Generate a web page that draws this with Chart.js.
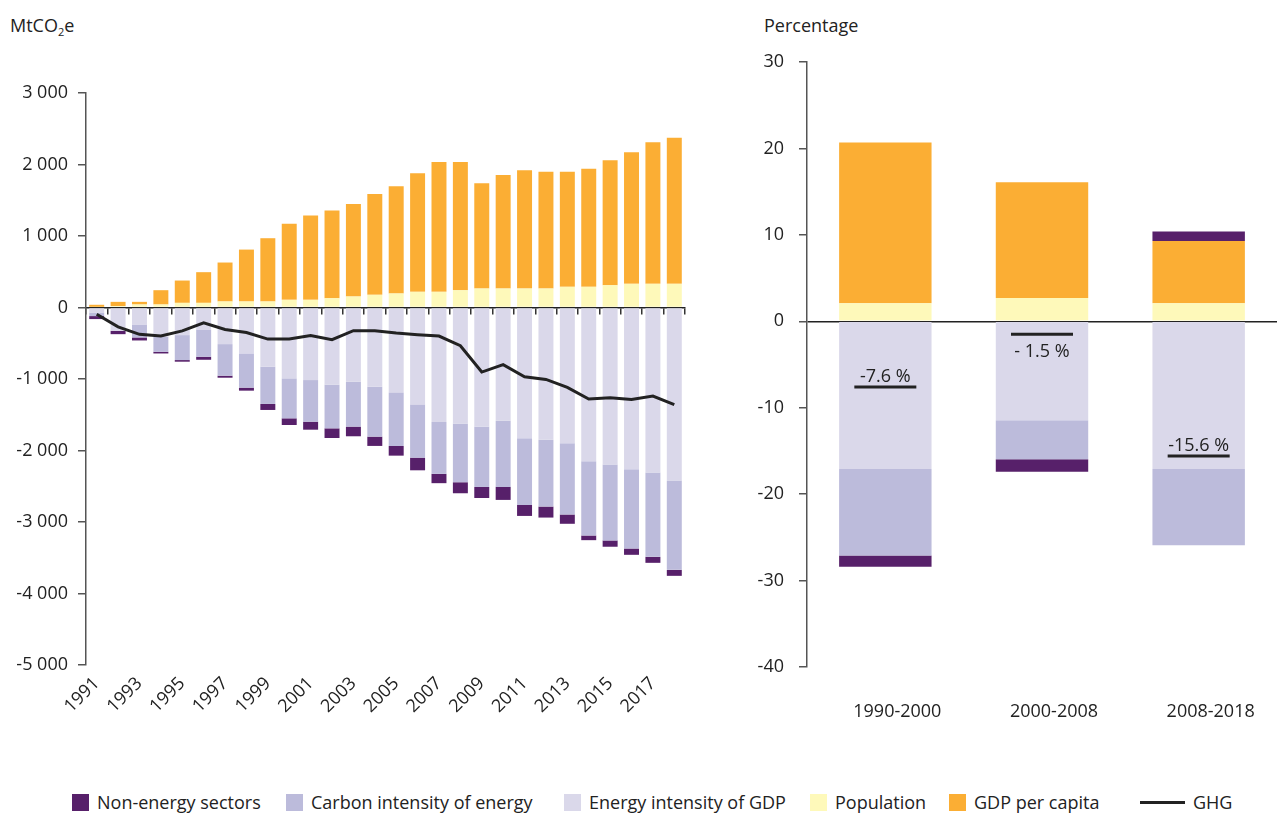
<!DOCTYPE html>
<html>
<head>
<meta charset="utf-8">
<script src="https://cdn.jsdelivr.net/npm/chart.js@4.4.1/dist/chart.umd.min.js"></script>
<style>
  html, body { margin: 0; padding: 0; background: #fff; }
  body { width: 1280px; height: 813px; position: relative; overflow: hidden; font-family: 'Open Sans', sans-serif; color: #222; }
  canvas { position: absolute; top: 0; }
  #c1 { left: 0; }
  #c2 { left: 700px; }
  .unit { position: absolute; top: 13px; font-size: 18px; line-height: 24px; }
  .unit sub { font-size: 11px; vertical-align: -4px; line-height: 0; }
  .legend { position: absolute; top: 790px; height: 24px; font-size: 18px; line-height: 24px; white-space: nowrap; display: flex; align-items: center; color: #222; }
  .legend .box { width: 17px; height: 17px; margin-right: 8px; display: inline-block; }
  .legend .ln { width: 45px; height: 3px; background: #222; margin-right: 8px; display: inline-block; }
</style>
</head>
<body>
<div class="unit" style="left:10px;">MtCO<sub>2</sub>e</div>
<div class="unit" style="left:764px;">Percentage</div>
<canvas id="c1" width="700" height="780"></canvas>
<canvas id="c2" width="580" height="780"></canvas>
<div id="legend"></div>
<script>
// ---------- Left chart data (MtCO2e) ----------
const years = ['1991','1992','1993','1994','1995','1996','1997','1998','1999','2000','2001','2002','2003','2004','2005','2006','2007','2008','2009','2010','2011','2012','2013','2014','2015','2016','2017','2018'];
const energyIntensity = [-70,-326,-237,-410,-386,-307,-512,-642,-828,-991,-1015,-1080,-1038,-1108,-1187,-1355,-1601,-1625,-1667,-1583,-1830,-1848,-1899,-2151,-2197,-2263,-2309,-2421];
const carbonIntensity = [-50,0,-182,-210,-349,-382,-442,-479,-521,-559,-582,-610,-628,-698,-750,-745,-726,-819,-843,-926,-931,-936,-996,-1038,-1061,-1108,-1178,-1248];
const nonEnergy = [-42,-47,-42,-23,-23,-42,-28,-42,-84,-93,-112,-135,-135,-130,-135,-177,-130,-154,-154,-182,-154,-154,-130,-65,-88,-88,-84,-84];
const population = [8,20,42,42,65,65,84,84,84,107,107,130,154,177,196,219,219,242,265,265,265,265,289,289,312,331,331,331];
const gdpPerCapita = [30,59,37,200,312,429,545,726,885,1066,1178,1225,1294,1411,1499,1658,1816,1793,1472,1588,1654,1635,1611,1653,1746,1839,1979,2044];
const ghg = [-95,-270,-375,-397,-327,-215,-308,-350,-442,-442,-391,-451,-325,-325,-358,-381,-400,-535,-903,-800,-968,-1006,-1117,-1280,-1261,-1285,-1239,-1359];
const leftTicks = [-5000,-4000,-3000,-2000,-1000,0,1000,2000,3000];

// ---------- Right chart data (percentage) ----------
const periods = ['1990-2000','2000-2008','2008-2018'];
const rEnergyIntensity = [-17.1,-11.45,-17.1];
const rCarbonIntensity = [-10.0,-4.5,-8.8];
const rPopulation = [2.1,2.7,2.1];
const rGdpPerCapita = [18.6,13.4,7.2];
const rNonEnergy = [-1.3,-1.45,1.1];
const rGhg = [-7.6,-1.5,-15.6];
const rGhgLabels = ['-7.6 %','- 1.5 %','-15.6 %'];

const seriesNames = ['Non-energy sectors','Carbon intensity of energy','Energy intensity of GDP','Population','GDP per capita','GHG'];
const COL = {
  ne: '#57206a', ci: '#bcbbdb', ei: '#dad8ea', pop: '#fef9ba', gdp: '#fbae34', ghg: '#222222'
};

Chart.defaults.font.family = "'Open Sans', sans-serif";
Chart.defaults.font.size = 18;
Chart.defaults.color = '#222';
Chart.defaults.animation = false;

function fmtThousands(v) {
  const s = String(Math.abs(v)).replace(/\B(?=(\d{3})+(?!\d))/g, ' ');
  return (v < 0 ? '-' : '') + s;
}

const barBase = { categoryPercentage: 0.7, barPercentage: 1, borderWidth: 0 };

new Chart(document.getElementById('c1'), {
  type: 'bar',
  data: {
    labels: years,
    datasets: [
      { label: seriesNames[2], data: energyIntensity, backgroundColor: COL.ei, ...barBase },
      { label: seriesNames[1], data: carbonIntensity, backgroundColor: COL.ci, ...barBase },
      { label: seriesNames[3], data: population, backgroundColor: COL.pop, ...barBase },
      { label: seriesNames[4], data: gdpPerCapita, backgroundColor: COL.gdp, ...barBase },
      { label: seriesNames[0], data: nonEnergy, backgroundColor: COL.ne, ...barBase },
      { type: 'line', label: seriesNames[5], data: ghg, borderColor: COL.ghg, borderWidth: 3, pointRadius: 0, tension: 0, order: -1, stack: 'ghg', fill: false }
    ]
  },
  options: {
    responsive: false,
    layout: { autoPadding: false, padding: { top: 93, right: 15, left: 0, bottom: 0 } },
    plugins: { legend: { display: false }, tooltip: { enabled: false } },
    scales: {
      x: {
        stacked: true,
        grid: { display: false, drawTicks: false },
        border: { display: false },
        ticks: {
          autoSkip: false, minRotation: 45, maxRotation: 45, padding: 8,
          callback: (v, i) => (i % 2 === 0 ? years[i] : '')
        },
        afterFit: (s) => { s.height = 115; }
      },
      x2: {
        type: 'category', labels: years, position: { y: 0 }, offset: true,
        grid: { display: true, drawOnChartArea: false, drawTicks: true, tickLength: 6, offset: true, color: '#333', lineWidth: 1.5 },
        ticks: { display: false },
        border: { display: true, color: '#222', width: 1.5 }
      },
      y: {
        stacked: true, min: -5000, max: 3000,
        afterBuildTicks: (s) => { s.ticks = leftTicks.map(v => ({ value: v })); },
        grid: { drawOnChartArea: false, drawTicks: true, tickLength: 8, tickColor: '#555', lineWidth: 1.5 },
        border: { display: true, color: '#555', width: 1.5 },
        ticks: { padding: 10, callback: (v) => fmtThousands(v) },
        afterFit: (s) => { s.width = 86; }
      }
    }
  }
});

const ghgLabelPlugin = {
  id: 'ghgLabels',
  afterDatasetsDraw(chart) {
    const idx = chart.data.datasets.findIndex(d => d.label === 'GHG');
    const meta = chart.getDatasetMeta(idx);
    const zeroY = chart.scales.y.getPixelForValue(0);
    const ctx = chart.ctx;
    ctx.save();
    ctx.font = "18px 'Open Sans', sans-serif";
    ctx.fillStyle = '#222';
    ctx.textAlign = 'center';
    ctx.textBaseline = 'alphabetic';
    meta.data.forEach((pt, i) => {
      const below = (pt.y - zeroY) < 30;
      const y = below ? pt.y + 23 : pt.y - 5;
      ctx.fillText(rGhgLabels[i], pt.x, y);
    });
    ctx.restore();
  }
};

const rBar = { categoryPercentage: 0.59, barPercentage: 1, borderWidth: 0 };

new Chart(document.getElementById('c2'), {
  type: 'bar',
  data: {
    labels: periods,
    datasets: [
      { label: seriesNames[2], data: rEnergyIntensity, backgroundColor: COL.ei, ...rBar },
      { label: seriesNames[1], data: rCarbonIntensity, backgroundColor: COL.ci, ...rBar },
      { label: seriesNames[3], data: rPopulation, backgroundColor: COL.pop, ...rBar },
      { label: seriesNames[4], data: rGdpPerCapita, backgroundColor: COL.gdp, ...rBar },
      { label: seriesNames[0], data: rNonEnergy, backgroundColor: COL.ne, ...rBar },
      { type: 'line', label: seriesNames[5], data: rGhg, showLine: false, pointStyle: 'line', pointRadius: 31, pointHoverRadius: 31, borderColor: COL.ghg, pointBorderColor: COL.ghg, pointBorderWidth: 3, borderWidth: 3, order: -1, stack: 'ghg' }
    ]
  },
  options: {
    responsive: false,
    layout: { autoPadding: false, padding: { top: 62, right: 3, left: 0, bottom: 0 } },
    plugins: { legend: { display: false }, tooltip: { enabled: false } },
    scales: {
      x: {
        stacked: true,
        grid: { display: false, drawTicks: false },
        border: { display: false },
        ticks: { padding: 34, maxRotation: 0, labelOffset: 12 },
        afterFit: (s) => { s.height = 780 - 667; }
      },
      y: {
        stacked: true, min: -40, max: 30,
        ticks: { stepSize: 10, padding: 15 },
        grid: {
          drawOnChartArea: true, drawTicks: true, tickLength: 8, tickColor: '#555',
          color: (c) => (c.tick && c.tick.value === 0 ? '#222' : 'rgba(0,0,0,0)'),
          lineWidth: 1.5
        },
        border: { display: true, color: '#555', width: 1.5 },
        afterFit: (s) => { s.width = 107; }
      }
    }
  },
  plugins: [ghgLabelPlugin]
});

// ---------- HTML legend ----------
const legendItems = [
  { name: seriesNames[0], color: COL.ne, left: 72 },
  { name: seriesNames[1], color: COL.ci, left: 286 },
  { name: seriesNames[2], color: COL.ei, left: 564 },
  { name: seriesNames[3], color: COL.pop, left: 810 },
  { name: seriesNames[4], color: COL.gdp, left: 949 },
  { name: seriesNames[5], color: COL.ghg, left: 1140, line: true }
];
const lg = document.getElementById('legend');
legendItems.forEach(it => {
  const d = document.createElement('div');
  d.className = 'legend';
  d.style.left = it.left + 'px';
  const m = document.createElement('span');
  if (it.line) { m.className = 'ln'; } else { m.className = 'box'; m.style.background = it.color; }
  d.appendChild(m);
  d.appendChild(document.createTextNode(it.name));
  lg.appendChild(d);
});
</script>
</body>
</html>
